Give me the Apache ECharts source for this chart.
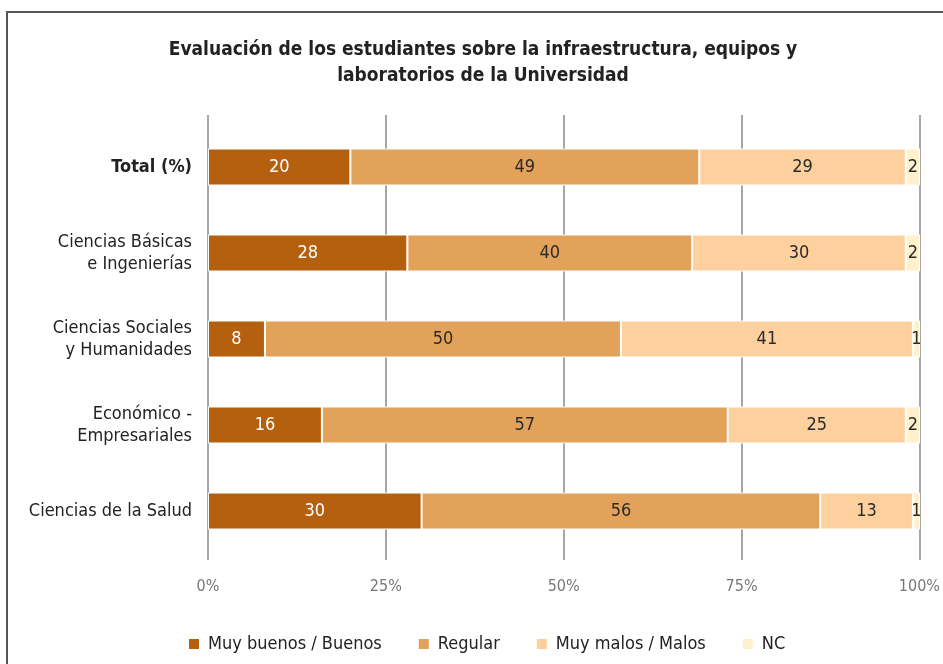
<!DOCTYPE html>
<html>
<head>
<meta charset="utf-8">
<title>Evaluación infraestructura</title>
<script src="https://cdn.jsdelivr.net/npm/echarts@6/dist/echarts.min.js"></script>
<style>
  html, body { margin: 0; padding: 0; background: #fff; }
  #chart { width: 943px; height: 664px; }
</style>
</head>
<body>
<div id="chart"></div>
<script>
var categories = ['Total (%)', 'Ciencias Básicas\ne Ingenierías', 'Ciencias Sociales\ny Humanidades', 'Económico -\nEmpresariales', 'Ciencias de la Salud'];
var seriesNames = ['Muy buenos / Buenos', 'Regular', 'Muy malos / Malos', 'NC'];
var muyBuenos = [20, 28, 8, 16, 30];
var regular = [49, 40, 50, 57, 56];
var muyMalos = [29, 30, 41, 25, 13];
var nc = [2, 2, 1, 2, 1];
var tickValues = [0, 25, 50, 75, 100];

var font = "'DejaVu Sans Condensed', 'Liberation Sans Narrow', sans-serif";
var colors = ['#b5600f', '#e3a25a', '#fdd09e', '#fff1cb'];
var labelColors = ['#ffffff', '#2a2a2a', '#2a2a2a', '#2a2a2a'];

/*----Stacked bars----*/
var allData = [muyBuenos, regular, muyMalos, nc];
var barSeries = allData.map(function (vals, i) {
	return {
		name: seriesNames[i],
		type: 'bar',
		stack: 'total',
		xAxisIndex: 0,
		yAxisIndex: 0,
		barWidth: 37,
		data: vals,
		itemStyle: {
			color: colors[i],
			borderColor: '#ffffff',
			borderWidth: 1
		},
		label: {
			show: true,
			position: 'inside',
			color: labelColors[i],
			fontFamily: font,
			fontSize: 18
		}
	};
});

var chart = echarts.init(document.getElementById('chart'));
var option = {
	animation: false,
	color: colors,
	title: {
		text: 'Evaluación de los estudiantes sobre la infraestructura, equipos y\nlaboratorios de la Universidad',
		left: 478,
		textAlign: 'center',
		top: 32,
		textStyle: {
			fontFamily: font,
			fontSize: 19,
			fontWeight: 'bold',
			color: '#222',
			lineHeight: 26
		}
	},
	legend: {
		left: 187,
		top: 635,
		padding: 0,
		itemWidth: 12,
		itemHeight: 12,
		itemGap: 35,
		icon: 'rect',
		textStyle: {
			fontFamily: font,
			fontSize: 18,
			color: '#222',
			padding: [0, 0, 0, 3]
		},
		data: seriesNames
	},
	grid: [
		{ left: 208, right: 23, top: 124, bottom: 110 },
		{ left: 208, right: 23, top: 115, bottom: 104 }
	],
	xAxis: [
		{
			type: 'value', gridIndex: 0, min: 0, max: 100, show: false
		},
		{
			type: 'value', gridIndex: 1, min: 0, max: 100, interval: 25,
			axisLine: { show: false },
			axisTick: { show: false },
			splitLine: { show: true, lineStyle: { color: '#8a8a8a', width: 1.5 } },
			axisLabel: {
				margin: 19,
				color: '#777',
				fontFamily: font,
				fontSize: 16,
				formatter: function (v) { return tickValues.indexOf(v) >= 0 ? v + '%' : ''; }
			}
		}
	],
	yAxis: [
		{
			type: 'category', gridIndex: 0, inverse: true,
			data: categories,
			axisLine: { show: false },
			axisTick: { show: false },
			axisLabel: {
				margin: 16,
				color: '#222',
				fontFamily: font,
				fontSize: 18,
				lineHeight: 22,
				formatter: function (v, idx) {
					return idx === 0 ? '{b|' + v + '}' : v;
				},
				rich: {
					b: { fontWeight: 'bold', fontFamily: font, fontSize: 18, color: '#222' }
				}
			}
		},
		{
			type: 'category', gridIndex: 1, show: false, data: ['']
		}
	],
	graphic: [
		{
			type: 'rect',
			shape: { x: 7, y: 12, width: 1000, height: 1000 },
			style: { fill: 'none', stroke: '#555', lineWidth: 2 },
			silent: true
		}
	],
	series: barSeries
};
chart.setOption(option);
/*----End Stacked bars----*/
</script>
</body>
</html>
